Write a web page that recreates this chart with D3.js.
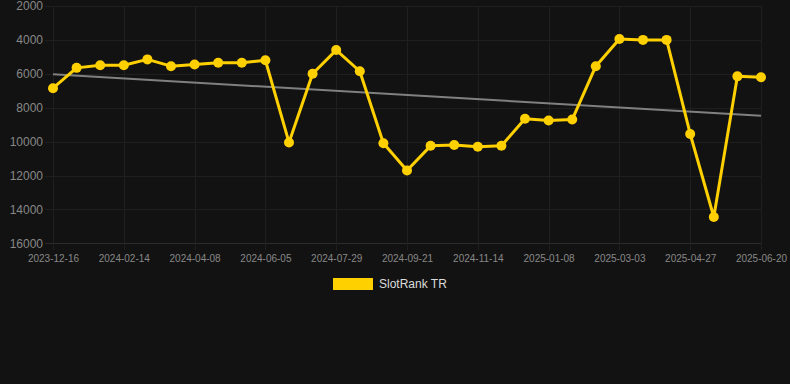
<!DOCTYPE html>
<html lang="en">
<head>
    <meta charset="UTF-8">
    <title>SlotRank TR</title>
    <script src="https://d3js.org/d3.v7.min.js"></script>
    <style>
        html, body {
            margin: 0;
            padding: 0;
            background: #121212;
        }
        body {
            font-family: "Liberation Sans", Arial, sans-serif;
        }
        .axis text {
            fill: #888;
        }
    </style>
</head>
<body>
    <script>
        // Data
        const tickLabels = [
            "2023-12-16", "2024-02-14", "2024-04-08", "2024-06-05", "2024-07-29",
            "2024-09-21", "2024-11-14", "2025-01-08", "2025-03-03", "2025-04-27", "2025-06-20"
        ];
        const rankValues = [
            6850, 5650, 5500, 5500, 5150, 5550, 5450, 5350, 5350, 5200,
            10050, 6000, 4600, 5850, 10100, 11700, 10250, 10200, 10300, 10250,
            8650, 8750, 8700, 5550, 3950, 4000, 4000, 9550, 14450, 6150, 6200
        ];
        const yTicks = [2000, 4000, 6000, 8000, 10000, 12000, 14000, 16000];
        const seriesName = "SlotRank TR";

        // Set up
        const width = 790;
        const height = 384;
        const plotLeft = 53, plotRight = 761, plotTop = 6, plotBottom = 243.3;
        const gold = "#ffd000";

        const x = d3.scalePoint()
            .domain(d3.range(rankValues.length))
            .range([plotLeft, plotRight]);

        const y = d3.scaleLinear()
            .domain([2000, 16000])
            .range([plotTop, plotBottom]);

        const svg = d3.select("body").append("svg")
            .attr("width", width)
            .attr("height", height);

        // every third point has a date label
        const tickIdx = tickLabels.map((_, i) => i * 3);

        // grid
        const grid = svg.append("g").attr("stroke", "#1f1f1f").attr("stroke-width", 1);
        grid.selectAll("line.h")
            .data(yTicks)
            .join("line")
            .attr("class", "h")
            .attr("x1", plotLeft - 8).attr("x2", plotRight)
            .attr("y1", d => Math.round(y(d)) + 0.5)
            .attr("y2", d => Math.round(y(d)) + 0.5)
            .attr("stroke", d => d === 16000 ? "#2c2c2c" : null);
        grid.selectAll("line.v")
            .data(tickIdx)
            .join("line")
            .attr("class", "v")
            .attr("x1", d => Math.round(x(d)) + 0.5)
            .attr("x2", d => Math.round(x(d)) + 0.5)
            .attr("y1", plotTop).attr("y2", plotBottom + 7);

        // y axis
        const yAxis = svg.append("g")
            .attr("class", "axis")
            .attr("transform", `translate(${plotLeft - 10},0)`)
            .call(d3.axisLeft(y).tickValues(yTicks).tickSize(0).tickPadding(0).tickFormat(d3.format("d")));
        yAxis.select(".domain").remove();
        yAxis.selectAll("text").attr("font-size", 12).attr("font-family", "Liberation Sans, Arial, sans-serif");

        // x axis
        const xAxis = svg.append("g")
            .attr("class", "axis")
            .attr("transform", `translate(0,${plotBottom})`)
            .call(d3.axisBottom(x).tickValues(tickIdx).tickSize(0).tickPadding(12)
                .tickFormat(d => tickLabels[d / 3]));
        xAxis.select(".domain").remove();
        xAxis.selectAll("text").attr("font-size", 10).attr("font-family", "Liberation Sans, Arial, sans-serif");

        // trend line (least squares)
        const n = rankValues.length;
        const mx = d3.mean(d3.range(n));
        const my = d3.mean(rankValues);
        const slope = d3.sum(rankValues, (v, i) => (i - mx) * (v - my)) /
            d3.sum(d3.range(n), i => (i - mx) * (i - mx));
        const trend = [0, n - 1].map(i => [i, my + slope * (i - mx)]);

        svg.append("path")
            .datum(trend)
            .attr("fill", "none")
            .attr("stroke", "#808080")
            .attr("stroke-width", 2)
            .attr("d", d3.line().x(d => x(d[0])).y(d => y(d[1])));

        // series
        svg.append("path")
            .datum(rankValues)
            .attr("fill", "none")
            .attr("stroke", gold)
            .attr("stroke-width", 3)
            .attr("stroke-linejoin", "round")
            .attr("d", d3.line().x((d, i) => x(i)).y(d => y(d)));

        svg.append("g")
            .selectAll("circle")
            .data(rankValues)
            .join("circle")
            .attr("cx", (d, i) => x(i))
            .attr("cy", d => y(d))
            .attr("r", 5)
            .attr("fill", gold);

        // legend
        const legend = svg.append("g");
        legend.append("rect")
            .attr("x", 333).attr("y", 278)
            .attr("width", 40).attr("height", 12)
            .attr("fill", gold);
        legend.append("text")
            .attr("x", 379).attr("y", 284)
            .attr("dy", "0.35em")
            .attr("font-size", 12)
            .attr("fill", "#dcdcdc")
            .text(seriesName);
    </script>
</body>
</html>
